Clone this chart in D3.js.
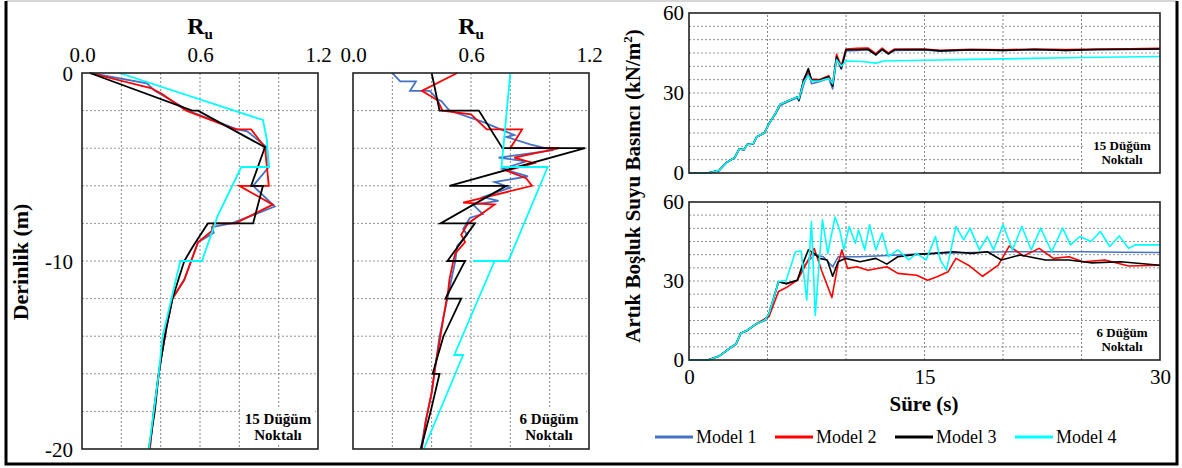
<!DOCTYPE html>
<html>
<head>
<meta charset="utf-8">
<title>Ru / Artık Boşluk Suyu Basıncı</title>
<script src="https://d3js.org/d3.v7.min.js"></script>
<style>
  body { margin: 0; background: #fff; }
  text { font-family: "Liberation Serif", "Times New Roman", serif; }
</style>
</head>
<body>
<svg width="1182" height="468" font-family="Liberation Serif, Times New Roman, serif"></svg>
<script>
// ---- data ----
var models = ["Model 1", "Model 2", "Model 3", "Model 4"];
var colors = ["#4472C4", "#FF0000", "#000000", "#00FFFF"];
var ruTicks = [0, 0.6, 1.2];
var depthTicks = [0, -10, -20];
var pTicks = [0, 30, 60];
var tTicks = [0, 15, 30];

// [Ru, depth] – 15 node model
var ru15_m1 = [[0.04,0],[0.33,-0.55],[0.37,-0.95],[0.55,-2.05],[0.79,-3],[0.84,-3.1],[0.94,-3.95],[0.95,-5],[0.87,-6],[0.98,-7.1],[0.86,-7.6],[0.76,-8],[0.66,-8.2],[0.67,-8.5],[0.59,-9],[0.555,-10],[0.52,-11],[0.46,-12],[0.43,-13.5],[0.405,-15],[0.39,-16],[0.365,-18],[0.345,-20]];
var ru15_m2 = [[0.04,0],[0.35,-0.8],[0.405,-1.1],[0.53,-2],[0.78,-3],[0.86,-3],[0.93,-3.95],[0.95,-6],[0.80,-6],[0.97,-7],[0.78,-8],[0.67,-8],[0.66,-8.4],[0.59,-9],[0.555,-10],[0.52,-11],[0.46,-12],[0.43,-13.5],[0.405,-15],[0.39,-16],[0.365,-18],[0.345,-20]];
var ru15_m3 = [[0.04,0],[0.56,-2],[0.59,-2],[0.93,-3.95],[0.86,-6],[0.92,-6],[0.87,-8],[0.64,-8],[0.59,-8.8],[0.56,-9.3],[0.52,-10],[0.49,-11],[0.46,-12],[0.43,-13.5],[0.405,-15],[0.39,-16],[0.37,-18],[0.34,-20]];
var ru15_m4 = [[0.19,0],[0.92,-2.5],[0.94,-3.55],[0.95,-5],[0.81,-5],[0.69,-7.6],[0.61,-10],[0.50,-10],[0.41,-14],[0.39,-16],[0.34,-20]];

// [Ru, depth] – 6 node model
var ru6_m1 = [[0.20,0],[0.24,-0.45],[0.32,-0.45],[0.29,-0.95],[0.39,-0.95],[0.43,-1.4],[0.45,-1.5],[0.49,-2],[0.66,-2.6],[0.82,-3.3],[0.78,-3.4],[0.90,-3.8],[1.02,-4.1],[0.74,-4.5],[0.88,-4.7],[0.76,-5.1],[0.89,-5.5],[0.72,-5.8],[0.80,-6.1],[0.66,-6.6],[0.74,-6.8],[0.61,-7],[0.66,-7.5],[0.595,-7.7],[0.56,-8.3],[0.58,-8.6],[0.53,-9.2],[0.52,-10],[0.50,-11],[0.48,-12],[0.46,-13],[0.44,-14],[0.42,-15.5],[0.40,-17],[0.37,-18.5],[0.345,-20]];
var ru6_m2 = [[0.53,0],[0.35,-0.95],[0.43,-1.45],[0.455,-2],[0.60,-2.2],[0.68,-3],[0.86,-3],[0.80,-4],[1.05,-4],[0.82,-4.5],[0.92,-4.8],[0.78,-5.2],[0.88,-5.6],[0.91,-6],[0.56,-6.9],[0.72,-7],[0.585,-8],[0.55,-8.6],[0.57,-9],[0.52,-9.6],[0.51,-10],[0.49,-11],[0.485,-11.5],[0.46,-13],[0.44,-14.3],[0.42,-15.5],[0.40,-17],[0.37,-18.5],[0.35,-20]];
var ru6_m3 = [[0.40,0],[0.44,-2],[0.64,-2],[0.76,-4],[1.18,-4],[0.49,-6],[0.78,-6],[0.445,-8],[0.62,-8],[0.48,-10],[0.57,-10],[0.47,-12],[0.55,-12],[0.46,-14],[0.405,-16],[0.44,-16],[0.395,-18],[0.345,-20]];
var ru6_m4 = [[0.80,0],[0.755,-5],[0.99,-5],[0.79,-10],[0.61,-10],[0.72,-10],[0.515,-15],[0.56,-15],[0.36,-20]];

// [t, P] – 15 node model
var p15_m1 = [[0,0],[1.2,0],[1.9,0.9],[2.4,4],[2.9,5.7],[3.2,9],[3.5,8.7],[3.7,10.7],[4.1,11],[4.3,13.5],[4.8,15],[5.1,18.5],[5.5,22],[5.8,25.3],[6.4,27],[6.9,28.2],[7.0,27],[7.3,33],[7.6,38],[7.8,33.5],[8.3,34.2],[8.9,35.5],[9.15,31.5],[9.4,43],[9.7,39],[10.0,45.8],[10.7,46],[11.4,46.2],[11.9,44.3],[12.3,46.2],[12.7,44.6],[13.1,46],[15,46.1],[16,45.7],[18,46.1],[20,46],[22,46.2],[24,46],[26,46.2],[28,46.3],[30,46.4]];
var p15_m2 = [[0,0],[1.2,0],[1.9,0.9],[2.4,4],[2.9,5.7],[3.2,9],[3.5,8.7],[3.7,10.7],[4.1,11],[4.3,13.5],[4.8,15],[5.1,18.5],[5.5,22.3],[5.8,25.7],[6.4,27.3],[6.9,28.5],[7.0,27.5],[7.3,35],[7.6,38.5],[7.8,35.2],[8.3,35],[8.9,36.5],[9.15,33],[9.4,44.5],[9.7,40],[10.0,46.5],[10.7,46.8],[11.4,46.9],[11.9,44.8],[12.3,46.8],[12.7,45],[13.1,46.5],[15,46.5],[16,46],[18,46.4],[20,46.2],[22,46.5],[24,46.3],[26,46.5],[28,46.6],[30,46.8]];
var p15_m3 = [[0,0],[1.2,0],[1.9,0.9],[2.4,4],[2.9,5.7],[3.2,9],[3.5,8.7],[3.7,10.7],[4.1,11],[4.3,13.5],[4.8,15],[5.1,18.5],[5.5,22.3],[5.8,25.7],[6.4,27.3],[6.9,28.5],[7.0,27.3],[7.3,34.8],[7.6,39.2],[7.8,34.8],[8.3,34.8],[8.9,36.1],[9.15,32.6],[9.4,43.6],[9.7,39.2],[10.0,46.2],[10.7,46.2],[11.4,46.4],[11.9,44.3],[12.3,46.4],[12.7,44.7],[13.1,46.2],[15,46.3],[16,45.8],[18,46.2],[20,46],[22,46.3],[24,46],[26,46.3],[28,46.4],[30,46.5]];
var p15_m4 = [[0,0],[1.2,0],[1.9,0.9],[2.4,4],[2.9,5.7],[3.2,9],[3.5,8.7],[3.7,10.7],[4.1,11],[4.3,13.5],[4.8,15],[5.1,18.5],[5.5,22.3],[5.8,25.7],[6.4,27.3],[6.9,28.5],[7.0,27.8],[7.3,34],[7.6,36.5],[7.8,34.5],[8.3,34.5],[8.9,35.5],[9.15,33.5],[9.4,42.5],[9.7,40],[10.0,42],[11,41.8],[11.9,41.2],[12.4,42],[15,42.3],[20,42.8],[25,43.3],[30,43.7]];

// [t, P] – 6 node model
var p6_m1 = [[0,0],[1.2,0],[1.9,1.4],[2.4,3.6],[3.0,6.1],[3.3,10.2],[3.7,11.2],[4.3,13.8],[4.8,15],[5.1,17.6],[5.7,29.7],[6.2,29],[6.9,30.3],[7.26,35.4],[7.97,39.9],[8.56,39.2],[9.15,35.4],[9.5,39.2],[10.9,39.2],[13.3,39.9],[15.6,40.5],[18,40.8],[20.4,41.1],[22.7,41.1],[25.1,41.1],[27.5,40.9],[30,40.8]];
var p6_m2 = [[0,0],[1.2,0],[1.9,1.4],[2.4,3.6],[3.0,6.1],[3.3,10.2],[3.7,11.2],[4.3,13.8],[4.8,15.5],[5.1,16.5],[5.7,26],[6.2,27.5],[6.9,30.3],[7.26,34.1],[7.97,42.4],[8.44,34.1],[9.1,23.7],[9.5,36.7],[9.74,41.8],[10.1,34.8],[10.7,35.4],[11.4,34.1],[12.6,35.4],[13.3,32.9],[14.5,32.2],[15.2,30.3],[15.8,31.6],[16.5,33.5],[17,38.6],[17.8,36],[18.7,31.8],[19.7,36],[20.4,43.3],[21.3,39.5],[22.3,42.4],[23.2,38.6],[24.2,39.2],[25.1,37.3],[26.5,38],[28,35.7],[30,36]];
var p6_m3 = [[0,0],[1.2,0],[1.9,1.4],[2.4,3.6],[3.0,6.1],[3.3,10.2],[3.7,11.2],[4.3,13.8],[4.8,15],[5.1,17.6],[5.7,29.7],[6.2,29],[6.9,30.3],[7.26,36.7],[7.6,41.8],[7.97,40.5],[8.32,38.6],[8.8,38],[9.15,31.8],[9.5,37.3],[9.98,38.6],[10.9,37.3],[11.9,38.6],[12.6,36.4],[13.3,39.2],[14.5,40.1],[15.6,40.5],[16.8,41.1],[18,40.5],[19,41.1],[19.9,38],[21.1,39.9],[22.7,38],[24.2,38],[25.6,36.9],[27.5,37.3],[30,36]];
var p6_m4 = [[0,0],[1.2,0],[1.9,1.4],[2.4,3.6],[3.0,6.1],[3.3,10.2],[3.7,11.2],[4.3,13.8],[4.8,15],[5.1,17.6],[5.7,29.7],[6.19,30.3],[6.78,41.1],[7.14,41.4],[7.5,22.7],[7.8,52.6],[8.04,16.9],[8.5,53.2],[8.84,40.5],[9.3,54.3],[9.6,49.4],[9.86,41.8],[10.2,50.7],[10.6,44.3],[10.8,49.4],[11.2,41.8],[11.5,51.4],[11.9,41.8],[12.3,48.2],[12.7,39.2],[13.3,41.8],[14,38],[14.5,40.5],[15.1,38],[15.7,46.9],[16,38],[16.4,34.1],[17,50.7],[17.5,45.6],[17.9,50.1],[18.5,41.8],[19,46.9],[19.4,41.8],[20,51.4],[20.6,41.8],[21.2,50.7],[21.8,41.8],[22.4,50.1],[23.1,41.1],[23.8,50.1],[24.3,43.7],[24.9,46.9],[25.6,45],[26.2,48.8],[26.8,43.1],[27.4,47.1],[28,42.4],[28.4,43.7],[30,43.7]];

var svg = d3.select("svg");
var serif = '"Liberation Serif", "Times New Roman", serif';

// outer frame
svg.append("line").attr("x1", 6).attr("x2", 1177).attr("y1", 1).attr("y2", 1)
   .style("stroke", "#c8c8c8").style("stroke-width", 1.5);
svg.append("path").attr("d", "M6,1 V464 H1177 V1")
   .style("fill", "none").style("stroke", "#000").style("stroke-width", 3);

function gridLines(g, x, y, xs, ys) {
  g.selectAll(".gx").data(xs).enter().append("line")
    .attr("x1", d => x(d)).attr("x2", d => x(d))
    .attr("y1", y.range()[0]).attr("y2", y.range()[1])
    .style("stroke", "#777").style("stroke-width", 0.9).style("stroke-dasharray", "2,2");
  g.selectAll(".gy").data(ys).enter().append("line")
    .attr("y1", d => y(d)).attr("y2", d => y(d))
    .attr("x1", x.range()[0]).attr("x2", x.range()[1])
    .style("stroke", "#888").style("stroke-width", 0.9).style("stroke-dasharray", "2,2");
}

function label(g, cx, y1, lines, fs) {
  var w = 74;
  g.append("rect").attr("x", cx - w / 2).attr("y", y1 - fs).attr("width", w).attr("height", fs * 2 + 4)
    .style("fill", "#fff");
  lines.forEach(function(s, i) {
    g.append("text").text(s).attr("x", cx).attr("y", y1 + i * (fs + 1))
      .attr("text-anchor", "middle").style("font-family", serif)
      .style("font-weight", "bold").style("font-size", fs + "px");
  });
}

function depthPanel(x0, series, showY, note) {
  var x = d3.scaleLinear().domain([0, 1.2]).range([x0, x0 + 236]);
  var y = d3.scaleLinear().domain([0, -20]).range([73, 449]);
  var g = svg.append("g");
  gridLines(g, x, y, x.ticks(6).slice(1, -1), y.ticks(10).slice(1, -1));
  var line = d3.line().x(d => x(d[0])).y(d => y(d[1]));
  series.forEach(function(s, i) {
    g.append("path").datum(s).attr("d", line)
      .style("fill", "none").style("stroke", colors[i]).style("stroke-width", 1.8)
      .style("stroke-linejoin", "miter");
  });
  label(g, x0 + 196, 424, note, 15);
  g.append("rect").attr("x", x0).attr("y", 73).attr("width", 236).attr("height", 376)
    .style("fill", "none").style("stroke", "#222").style("stroke-width", 1.6);
  var ax = g.append("g").attr("transform", "translate(0,62)")
    .call(d3.axisTop(x).tickValues(ruTicks).tickSize(0).tickPadding(0).tickFormat(d3.format(".1f")));
  ax.select(".domain").remove();
  ax.selectAll("text").style("font-family", serif).style("font-size", "21px").attr("dy", "0");
  var t = g.append("text").attr("x", x0 + 118).attr("y", 34).attr("text-anchor", "middle")
    .style("font-family", serif).style("font-weight", "bold").style("font-size", "24px");
  t.append("tspan").text("R");
  t.append("tspan").text("u").attr("dy", 5).style("font-size", "15px");
  if (showY) {
    var ay = g.append("g").attr("transform", "translate(" + (x0 - 9) + ",0)")
      .call(d3.axisLeft(y).tickValues(depthTicks).tickSize(0).tickPadding(0).tickFormat(d => String(d)));
    ay.select(".domain").remove();
    ay.selectAll("text").style("font-family", serif).style("font-size", "21px").attr("dy", "0.38em");
  }
}

function timePanel(yTop, yBot, series, showX, note) {
  var x = d3.scaleLinear().domain([0, 30]).range([689, 1160]);
  var y = d3.scaleLinear().domain([0, 60]).range([yBot, yTop]);
  var g = svg.append("g");
  gridLines(g, x, y, x.ticks(6).slice(1, -1), y.ticks(12).slice(1, -1));
  var line = d3.line().x(d => x(d[0])).y(d => y(d[1]));
  series.forEach(function(s, i) {
    g.append("path").datum(s).attr("d", line)
      .style("fill", "none").style("stroke", colors[i]).style("stroke-width", 1.6)
      .style("stroke-linejoin", "round");
  });
  label(g, 1122, yBot - 23, note, 13);
  g.append("rect").attr("x", 689).attr("y", yTop).attr("width", 471).attr("height", yBot - yTop)
    .style("fill", "none").style("stroke", "#222").style("stroke-width", 1.6);
  var ay = g.append("g").attr("transform", "translate(684,0)")
    .call(d3.axisLeft(y).tickValues(pTicks).tickSize(0).tickPadding(0).tickFormat(d => String(d)));
  ay.select(".domain").remove();
  ay.selectAll("text").style("font-family", serif).style("font-size", "21px");
  if (showX) {
    var ax = g.append("g").attr("transform", "translate(0," + (yBot + 9) + ")")
      .call(d3.axisBottom(x).tickValues(tTicks).tickSize(0).tickPadding(0).tickFormat(d => String(d)));
    ax.select(".domain").remove();
    ax.selectAll("text").style("font-family", serif).style("font-size", "21px");
  }
}

depthPanel(82, [ru15_m1, ru15_m2, ru15_m3, ru15_m4], true, ["15 Düğüm", "Noktalı"]);
depthPanel(353, [ru6_m1, ru6_m2, ru6_m3, ru6_m4], false, ["6 Düğüm", "Noktalı"]);
timePanel(13, 173, [p15_m1, p15_m2, p15_m3, p15_m4], false, ["15 Düğüm", "Noktalı"]);
timePanel(202, 360, [p6_m1, p6_m2, p6_m3, p6_m4], true, ["6 Düğüm", "Noktalı"]);

// axis titles
svg.append("text").text("Derinlik (m)")
  .attr("transform", "translate(28,262) rotate(-90)").attr("text-anchor", "middle")
  .style("font-family", serif).style("font-weight", "bold").style("font-size", "22px");
var yt = svg.append("text")
  .attr("transform", "translate(640,186) rotate(-90)").attr("text-anchor", "middle")
  .style("font-family", serif).style("font-weight", "bold").style("font-size", "21px");
yt.append("tspan").text("Artık Boşluk Suyu Basıncı (kN/m");
yt.append("tspan").text("2").attr("dy", -8).style("font-size", "13px");
yt.append("tspan").text(")").attr("dy", 8);
svg.append("text").text("Süre (s)").attr("x", 924).attr("y", 411).attr("text-anchor", "middle")
  .style("font-family", serif).style("font-weight", "bold").style("font-size", "21px");

// legend
var leg = svg.selectAll(".leg").data(models).enter().append("g")
  .attr("transform", (d, i) => "translate(" + (655 + i * 120) + ",437)");
leg.append("line").attr("x1", 0).attr("x2", 38).attr("y1", 0).attr("y2", 0)
  .style("stroke", (d, i) => colors[i]).style("stroke-width", 3);
leg.append("text").text(d => d).attr("x", 41).attr("y", 6)
  .style("font-family", serif).style("font-size", "18px");
</script>
</body>
</html>
